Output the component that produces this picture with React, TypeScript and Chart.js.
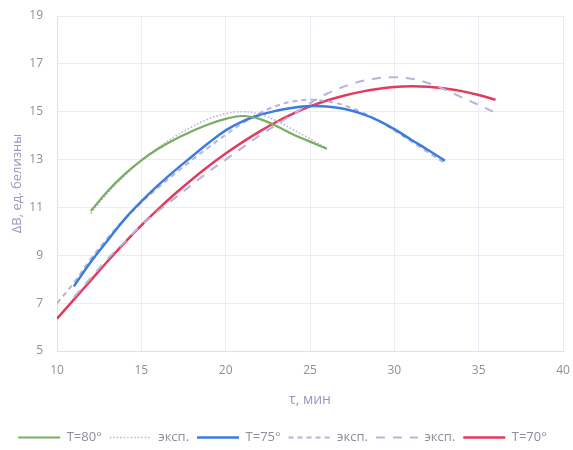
import React, { useEffect, useRef } from "react";
import { Chart, registerables } from "chart.js";

Chart.register(...registerables);

// τ, мин  /  ΔB values
const tGreen = [12, 13, 14, 15, 16, 17, 18, 19, 20, 21, 22, 23, 24, 25, 26];
const vGreen = [10.85, 11.68, 12.38, 12.97, 13.45, 13.85, 14.18, 14.48, 14.7, 14.82, 14.7, 14.4, 14.05, 13.75, 13.45];

const tDot = [12, 13, 14, 15, 16, 17, 18, 19, 20, 21, 22, 23, 24, 25, 26];
const vDot = [10.75, 11.6, 12.32, 12.95, 13.5, 13.97, 14.37, 14.7, 14.92, 15.0, 14.9, 14.62, 14.25, 13.87, 13.47];

const tBlue = [11, 12, 13, 14, 15, 16, 17, 18, 19, 20, 21, 22, 23, 24, 25, 26, 27, 28, 29, 30, 31, 32, 33];
const vBlue = [7.7, 8.72, 9.62, 10.5, 11.25, 11.93, 12.55, 13.13, 13.7, 14.22, 14.6, 14.86, 15.04, 15.17, 15.24, 15.22, 15.12, 14.93, 14.65, 14.27, 13.83, 13.4, 12.95];

const tShort = [10, 11, 12, 13, 14, 15, 16, 17, 18, 19, 20, 21, 22, 23, 24, 25, 26, 27, 28, 29, 30, 31, 32, 33];
const vShort = [7.0, 7.85, 8.85, 9.72, 10.5, 11.2, 11.83, 12.42, 12.98, 13.52, 14.04, 14.52, 14.93, 15.24, 15.43, 15.5, 15.44, 15.27, 15.0, 14.65, 14.22, 13.76, 13.3, 12.85];

const tLong = [11, 12, 13, 14, 15, 16, 17, 18, 19, 20, 21, 22, 23, 24, 25, 26, 27, 28, 29, 30, 31, 32, 33, 34, 35, 36];
const vLong = [7.25, 8.05, 8.85, 9.55, 10.25, 10.85, 11.4, 11.95, 12.5, 13.0, 13.5, 14.0, 14.45, 14.9, 15.35, 15.75, 16.05, 16.27, 16.4, 16.44, 16.38, 16.2, 15.92, 15.6, 15.28, 14.95];

const tRed = [10, 11, 12, 13, 14, 15, 16, 17, 18, 19, 20, 21, 22, 23, 24, 25, 26, 27, 28, 29, 30, 31, 32, 33, 34, 35, 36];
const vRed = [6.35, 7.15, 7.95, 8.75, 9.52, 10.25, 10.93, 11.57, 12.17, 12.73, 13.25, 13.73, 14.17, 14.57, 14.92, 15.22, 15.47, 15.67, 15.83, 15.95, 16.03, 16.06, 16.04, 15.97, 15.86, 15.7, 15.5];

const seriesLabels = ["T=80°", "эксп.", "T=75°", "эксп.", "эксп.", "T=70°"];

const xTitle = "τ, мин";
const yTitle = "ΔB, ед. белизны";

const toPts = (t: number[], v: number[]) => t.map((x, i) => ({ x, y: v[i] }));

export default function App() {
  const ref = useRef<HTMLCanvasElement | null>(null);

  useEffect(() => {
    if (!ref.current) return;
    const lav = "#b7b4da";
    const textColor = "#8e8e9c";
    const titleColor = "#9a97bd";
    const fam = "'Open Sans', sans-serif";
    const mk = (label: string, data: any, color: string, width: number, dash: number[]) => ({
      label,
      data,
      borderColor: color,
      backgroundColor: color,
      borderWidth: width,
      borderDash: dash,
      pointRadius: 0,
      tension: 0.4,
      fill: false,
    });
    const chart = new Chart(ref.current, {
      type: "line",
      data: {
        datasets: [
          mk(seriesLabels[0], toPts(tGreen, vGreen), "#7aad5e", 2.2, []),
          mk(seriesLabels[1], toPts(tDot, vDot), lav, 1.6, [1.5, 2]),
          mk(seriesLabels[2], toPts(tBlue, vBlue), "#3b7ddd", 2.5, []),
          mk(seriesLabels[3], toPts(tShort, vShort), lav, 2, [5, 4]),
          mk(seriesLabels[4], toPts(tLong, vLong), lav, 2, [9, 8]),
          mk(seriesLabels[5], toPts(tRed, vRed), "#e43a5e", 2.5, []),
        ] as any,
      },
      options: {
        animation: false,
        responsive: true,
        maintainAspectRatio: false,
        layout: { padding: { left: 2, right: 10, top: 16, bottom: -4 } },
        plugins: {
          tooltip: { enabled: false },
          legend: {
            position: "bottom",
            labels: {
              usePointStyle: true,
              pointStyleWidth: 42,
              padding: 8,
              color: textColor,
              font: { family: fam, size: 13 },
              generateLabels: (c: any) =>
                c.data.datasets.map((ds: any, i: number) => ({
                  text: ds.label,
                  fillStyle: ds.borderColor,
                  strokeStyle: ds.borderColor,
                  lineWidth: ds.borderWidth,
                  lineDash: ds.borderDash,
                  pointStyle: "line",
                  hidden: false,
                  datasetIndex: i,
                  fontColor: textColor,
                })),
            },
          },
        },
        scales: {
          x: {
            type: "linear",
            min: 10,
            max: 40,
            afterFit: (s: any) => {
              s.height = 72;
              s.paddingLeft = 0;
              s.paddingRight = 0;
            },
            ticks: { stepSize: 5, padding: 12, color: textColor, font: { family: fam, size: 12 } },
            grid: { color: "#e9ecf4", drawTicks: false },
            border: { color: "#dde1ee" },
            title: {
              display: true,
              text: xTitle,
              color: titleColor,
              padding: { top: 10, bottom: 15 },
              font: { family: fam, size: 14 },
            },
          },
          y: {
            type: "linear",
            min: 5,
            max: 19,
            afterFit: (s: any) => {
              s.width = 55;
              s.paddingTop = 0;
              s.paddingBottom = 0;
            },
            ticks: { stepSize: 2, padding: 14, color: textColor, font: { family: fam, size: 12 } },
            grid: { color: "#e9ecf4", drawTicks: false },
            border: { color: "#dde1ee" },
            title: {
              display: true,
              text: yTitle,
              color: titleColor,
              padding: { top: 7, bottom: 4 },
              font: { family: fam, size: 13 },
            },
          },
        },
      },
    });
    return () => chart.destroy();
  }, []);

  return (
    <div style={{ position: "absolute", left: 0, top: 0, width: 573, height: 450 }}>
      <canvas ref={ref} />
    </div>
  );
}
